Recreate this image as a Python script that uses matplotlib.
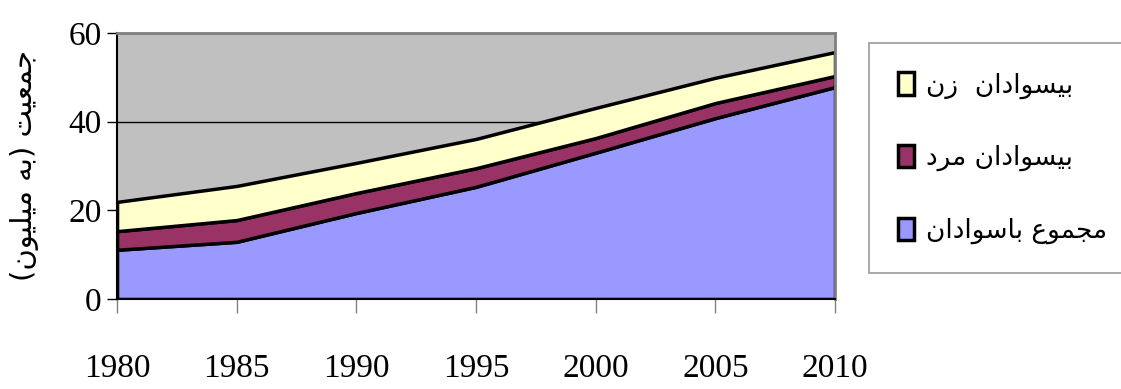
import matplotlib.pyplot as plt
from matplotlib.patches import Patch

years = [1980, 1985, 1990, 1995, 2000, 2005, 2010]
literate_total = [11.1, 12.9, 19.4, 25.3, 33.0, 40.8, 47.8]
illiterate_men = [4.2, 4.9, 4.5, 4.2, 3.3, 3.4, 2.5]
illiterate_women = [6.6, 7.7, 6.8, 6.6, 6.8, 5.7, 5.4]
y_ticks = [0, 20, 40, 60]

# Persian labels written in visual order with Arabic presentation forms
# (matplotlib has no RTL shaping of its own)
w_bisavadan = "\uFEE5\uFE8D\uFEA9\uFE8D\uFEEE\uFEB4\uFEF4\uFE91"
w_zan = "\uFEE5\uFEAF"
w_mard = "\uFEA9\uFEAE\uFEE3"
w_majmoo = "\uFEC9\uFEEE\uFEE4\uFEA0\uFEE3"
w_basavadan = "\uFEE5\uFE8D\uFEA9\uFE8D\uFEEE\uFEB3\uFE8E\uFE91"
w_jamiat = "\uFE96\uFEF4\uFECC\uFEE4\uFE9F"
w_be = "\uFEEA\uFE91"
w_milion = "\uFEE5\uFEEE\uFEF4\uFEE0\uFEF4\uFEE3"

label_women = w_zan + "  " + w_bisavadan
label_men = w_mard + " " + w_bisavadan
label_total = w_basavadan + " " + w_majmoo
y_label = "(" + w_milion + " " + w_be + ") " + w_jamiat

colors = ["#9999FF", "#993366", "#FFFFCC"]

fig = plt.figure(figsize=(11.21, 3.89), dpi=100)
ax = fig.add_axes([0.1044, 0.2314, 0.6405, 0.6838])
ax.set_facecolor("#C0C0C0")

ax.stackplot(years, literate_total, illiterate_men, illiterate_women,
             colors=colors, edgecolor="black", linewidth=2.5, zorder=2)

ax.set_xlim(1980, 2010)
ax.set_ylim(0, 60)
ax.set_yticks(y_ticks)
ax.set_xticks(years)
ax.grid(axis="y", color="black", linewidth=1, zorder=1)
ax.set_axisbelow(True)

for side in ["top", "right"]:
    ax.spines[side].set_color("#808080")
    ax.spines[side].set_linewidth(2)
for side in ["left", "bottom"]:
    ax.spines[side].set_color("black")
    ax.spines[side].set_linewidth(1.5)

serif = {"family": "Liberation Serif", "size": 24}
ax.set_yticklabels([str(v) for v in y_ticks], fontdict=serif)
ax.set_xticklabels([str(v) for v in years], fontdict=serif)
ax.tick_params(axis="y", direction="out", length=7, width=1, color="black", pad=4)
ax.tick_params(axis="x", direction="out", length=10, width=1, color="#808080", pad=29)

ax.set_ylabel(y_label, family="DejaVu Sans", fontsize=21)
ax.yaxis.set_label_coords(-0.108, 0.5)

handles = [Patch(facecolor=colors[2], edgecolor="black", linewidth=2.5),
           Patch(facecolor=colors[1], edgecolor="black", linewidth=2.5),
           Patch(facecolor=colors[0], edgecolor="black", linewidth=2.5)]
leg = fig.legend(handles, [label_women, label_men, label_total],
                 loc="upper left", bbox_to_anchor=(0.775, 0.89),
                 prop={"family": "DejaVu Sans", "size": 19},
                 frameon=True, fancybox=False, edgecolor="#808080",
                 handlelength=0.63, handleheight=0.95, handletextpad=0.45,
                 labelspacing=1.75, borderpad=1.1, borderaxespad=0)
leg.get_frame().set_linewidth(1.2)

fig.savefig("out.png", dpi=100)
